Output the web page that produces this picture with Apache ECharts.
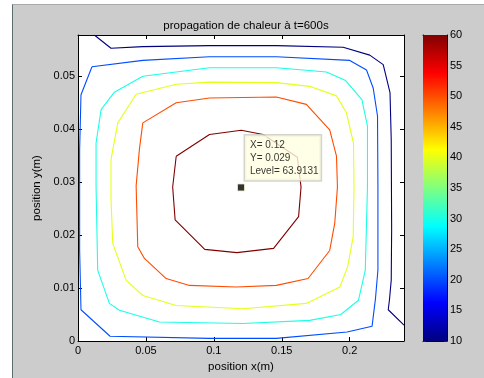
<!DOCTYPE html>
<html>
<head>
<meta charset="utf-8">
<script src="https://cdn.jsdelivr.net/npm/echarts@6/dist/echarts.min.js"></script>
<style>
  html, body { margin: 0; padding: 0; background: #fff; width: 484px; height: 378px; overflow: hidden; }
  #panel { position: absolute; left: 12px; top: 4px; width: 472px; height: 374px; background: #cccccc;
           border-left: 1px solid #5b6d6d; border-top: 1px solid #a9a9a9; box-sizing: border-box; }
  #chart { position: absolute; left: 0; top: 0; width: 484px; height: 378px; }
</style>
</head>
<body>
<div id="panel"></div>
<div id="chart"></div>
<script>
// Plate extent (m)
const domainX = [0, 0.24];
const domainY = [0, 0.0578];

// Isotherm levels (°C)
const levels = [10, 20, 30, 40, 50, 60];

// Isotherm polylines, [x (m), y (m)]
const iso10 = [[0.0120,0.0578],[0.0243,0.0553],[0.0477,0.0556],[0.0968,0.0558],[0.1460,0.0558],[0.1952,0.0555],
  [0.2148,0.0540],[0.2247,0.0522],[0.2297,0.0469],[0.2306,0.0380],[0.2309,0.0210],[0.2306,0.0115],[0.2293,0.0078],
  [0.2284,0.0059],[0.2400,0.0030]];
const iso20 = [[0.0103,0.0518],[0.0477,0.0530],[0.0968,0.0537],[0.1460,0.0537],[0.2001,0.0530],[0.2124,0.0512],
  [0.2173,0.0478],[0.2205,0.0425],[0.2208,0.0293],[0.2208,0.0134],[0.2190,0.0080],[0.2165,0.0028],[0.1981,0.0017],
  [0.1460,0.0005],[0.0968,0.0005],[0.0236,0.0009],[0.0022,0.0059],[0.0012,0.0172],[0.0012,0.0361],[0.0022,0.0465],
  [0.0103,0.0518]];
const iso30 = [[0.0268,0.0470],[0.0170,0.0437],[0.0133,0.0374],[0.0133,0.0291],[0.0145,0.0134],[0.0231,0.0071],
  [0.0305,0.0058],[0.0600,0.0036],[0.1215,0.0033],[0.1706,0.0039],[0.1935,0.0050],[0.2065,0.0077],[0.2115,0.0134],
  [0.2131,0.0291],[0.2131,0.0406],[0.2090,0.0456],[0.1970,0.0492],[0.1829,0.0508],[0.1460,0.0516],[0.0968,0.0516],
  [0.0477,0.0500],[0.0268,0.0470]];
const iso40 = [[0.0428,0.0466],[0.0293,0.0412],[0.0243,0.0343],[0.0243,0.0267],[0.0256,0.0184],[0.0354,0.0115],
  [0.0477,0.0086],[0.0723,0.0067],[0.1215,0.0061],[0.1681,0.0071],[0.1927,0.0102],[0.1985,0.0140],[0.2026,0.0197],
  [0.2032,0.0291],[0.2028,0.0374],[0.1976,0.0431],[0.1903,0.0463],[0.1706,0.0481],[0.1460,0.0488],[0.0968,0.0489],
  [0.0723,0.0485],[0.0428,0.0466]];
const iso50 = [[0.0477,0.0412],[0.0452,0.0362],[0.0428,0.0293],[0.0440,0.0178],[0.0489,0.0156],[0.0649,0.0118],
  [0.0821,0.0105],[0.1165,0.0102],[0.1460,0.0105],[0.1694,0.0118],[0.1853,0.0171],[0.1890,0.0222],[0.1910,0.0291],
  [0.1903,0.0349],[0.1853,0.0399],[0.1681,0.0447],[0.1460,0.0461],[0.0968,0.0459],[0.0723,0.0450],[0.0477,0.0412]];
const iso60 = [[0.0723,0.0349],[0.0968,0.0390],[0.1202,0.0398],[0.1362,0.0390],[0.1615,0.0347],[0.1642,0.0291],
  [0.1624,0.0235],[0.1440,0.0175],[0.1169,0.0167],[0.0933,0.0173],[0.0715,0.0229],[0.0697,0.0291],[0.0723,0.0349]];
const isolines = [iso10, iso20, iso30, iso40, iso50, iso60];

// Colour scale range (°C)
const colorRange = [10, 60];

// Data cursor
const cursorPoint = [0.12, 0.029];
const cursorLevel = 63.9131;

// Jet colormap
function jet(t) {
  const c = v => Math.max(0, Math.min(1, v));
  const r = c(1.5 - Math.abs(4 * t - 3));
  const g = c(1.5 - Math.abs(4 * t - 2));
  const b = c(1.5 - Math.abs(4 * t - 1));
  const h = v => Math.round(v * 255).toString(16).padStart(2, '0');
  return '#' + h(r) + h(g) + h(b);
}
const levelColor = L => jet((L - colorRange[0]) / (colorRange[1] - colorRange[0]));

const FONT = '"Liberation Sans", Arial, sans-serif';
const INK = '#000';

const chart = echarts.init(document.getElementById('chart'), null, { renderer: 'canvas' });

const axisCommon = {
  axisLine: { show: true, onZero: false, lineStyle: { color: INK, width: 1 } },
  axisTick: { show: true, inside: true, length: 4, lineStyle: { color: INK } },
  splitLine: { show: false }
};

const contourSeries = levels.map((L, i) => ({
  type: 'line',
  xAxisIndex: 0, yAxisIndex: 0,
  data: isolines[i],
  symbol: 'none',
  silent: true,
  z: 2,
  lineStyle: { color: levelColor(L), width: 1.1 }
}));

const stops = [0, 0.125, 0.375, 0.625, 0.875, 1].map(t => ({ offset: t, color: jet(t) }));

chart.setOption({
  animation: false,
  textStyle: { fontFamily: FONT },
  title: {
    text: 'propagation de chaleur à t=600s',
    left: 241, top: 15, textAlign: 'center',
    textStyle: { fontSize: 11.5, fontWeight: 'normal', color: INK, fontFamily: FONT }
  },
  grid: [
    { left: 78, right: 80, top: 35, bottom: 37, show: true, backgroundColor: '#fff', borderWidth: 0 },
    { left: 423, top: 35, width: 24, height: 306, show: false }
  ],
  xAxis: [
    Object.assign({}, axisCommon, {
      gridIndex: 0, type: 'value', position: 'bottom', min: domainX[0], max: domainX[1], interval: 0.05,
      name: 'position x(m)', nameLocation: 'middle', nameGap: 18,
      nameTextStyle: { fontSize: 11.5, color: INK, fontFamily: FONT },
      axisLabel: { margin: 4, fontSize: 11, color: INK, fontFamily: FONT, showMaxLabel: false }
    }),
    Object.assign({}, axisCommon, {
      gridIndex: 0, type: 'value', position: 'top', min: domainX[0], max: domainX[1], interval: 0.05,
      axisLabel: { show: false }
    }),
    { gridIndex: 1, type: 'category', data: ['cb'], position: 'bottom', boundaryGap: true,
      axisLine: { show: true, lineStyle: { color: INK } }, axisTick: { show: false }, axisLabel: { show: false } },
    { gridIndex: 1, type: 'category', data: ['cb'], position: 'top', boundaryGap: true,
      axisLine: { show: true, lineStyle: { color: INK } }, axisTick: { show: false }, axisLabel: { show: false } }
  ],
  yAxis: [
    Object.assign({}, axisCommon, {
      gridIndex: 0, type: 'value', position: 'left', min: domainY[0], max: domainY[1], interval: 0.01,
      name: 'position y(m)', nameLocation: 'middle', nameGap: 33,
      nameTextStyle: { fontSize: 11.5, color: INK, fontFamily: FONT },
      axisLabel: { margin: 3, fontSize: 11, color: INK, fontFamily: FONT, showMaxLabel: false }
    }),
    Object.assign({}, axisCommon, {
      gridIndex: 0, type: 'value', position: 'right', min: domainY[0], max: domainY[1], interval: 0.01,
      axisLabel: { show: false }
    }),
    Object.assign({}, axisCommon, {
      gridIndex: 1, type: 'value', position: 'right', min: colorRange[0], max: colorRange[1], interval: 5,
      axisTick: { show: true, inside: true, length: 3, lineStyle: { color: '#222' } },
      axisLabel: { margin: 3, fontSize: 11, color: INK, fontFamily: FONT }
    }),
    Object.assign({}, axisCommon, {
      gridIndex: 1, type: 'value', position: 'left', min: colorRange[0], max: colorRange[1], interval: 5,
      axisTick: { show: true, inside: true, length: 3, lineStyle: { color: '#222' } },
      axisLabel: { show: false }
    })
  ],
  series: contourSeries.concat([
    // colour bar: transparent base up to the scale minimum, gradient above it
    { type: 'bar', xAxisIndex: 2, yAxisIndex: 2, stack: 'cb', barWidth: '100%', silent: true,
      data: [colorRange[0]], itemStyle: { color: 'rgba(0,0,0,0)' } },
    { type: 'bar', xAxisIndex: 2, yAxisIndex: 2, stack: 'cb', barWidth: '100%', silent: true,
      data: [colorRange[1] - colorRange[0]],
      itemStyle: { color: new echarts.graphic.LinearGradient(0, 1, 0, 0, stops) } },
    // data cursor marker with its read-out box
    { type: 'scatter', xAxisIndex: 0, yAxisIndex: 0, z: 10, silent: true,
      data: [cursorPoint], symbol: 'rect', symbolSize: 7,
      itemStyle: { color: '#000', borderColor: '#eeeec8', borderWidth: 1 },
      label: {
        show: true, position: [8, -48],
        formatter: () => 'X= ' + cursorPoint[0] + '\nY= ' + cursorPoint[1] + '\nLevel= ' + cursorLevel,
        fontSize: 10, lineHeight: 13.3, color: INK, fontFamily: FONT,
        backgroundColor: '#ffffe1', borderColor: '#c9c9c0', borderWidth: 1.5,
        padding: [3, 2, 2, 5]
      }
    }
  ])
});
</script>
</body>
</html>
